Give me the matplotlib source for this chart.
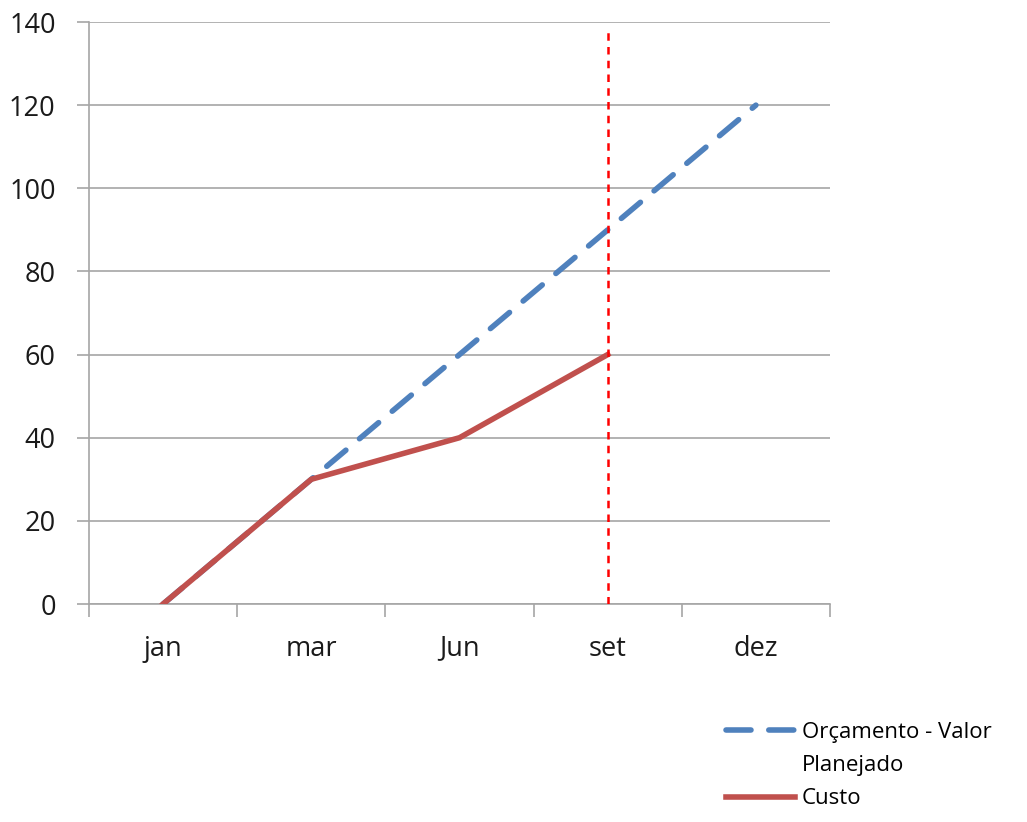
import numpy as np
import matplotlib.pyplot as plt
from matplotlib.lines import Line2D
from matplotlib.ticker import FixedLocator

# data
months = ['jan', 'mar', 'Jun', 'set', 'dez']
planned = [0, 30, 60, 90, 120]
cost = [0, 30, 40, 60]
cutoff_idx = 3
cutoff_top = 138
y_ticks = [0, 20, 40, 60, 80, 100, 120, 140]

plt.rcParams['font.family'] = ['Open Sans', 'DejaVu Sans']

fig = plt.figure(figsize=(10.27, 8.22), dpi=100)
ax = fig.add_axes([89 / 1027, 1 - 604 / 822, (830 - 89) / 1027, (604 - 22) / 822])

x = np.arange(len(months))
grid_c = '#a6a6a6'

blue_line, = ax.plot(x, planned, color='#4f81bd', lw=4, dashes=(4.5, 3.2),
                     dash_capstyle='round', zorder=3)
red_line, = ax.plot(x[:len(cost)], cost, color='#c0504d', lw=4, zorder=4)
ax.vlines(x[cutoff_idx], 0, cutoff_top, colors='red', lw=1.8,
          linestyles=(0, (3, 2.5)), zorder=5)

ax.set_xlim(-0.5, len(months) - 0.5)
ax.set_ylim(0, 140)
ax.set_xticks(x)
ax.set_xticklabels(months)
ax.xaxis.set_minor_locator(FixedLocator(np.arange(-0.5, len(months), 1)))
ax.set_yticks(y_ticks)

ax.tick_params(axis='x', which='major', length=0, pad=22, labelsize=19.5, labelcolor='#1a1a1a')
ax.tick_params(axis='x', which='minor', length=9, width=1.2, color=grid_c)
ax.tick_params(axis='y', length=9, width=1.2, color=grid_c, pad=15, labelsize=19.5, labelcolor='#1a1a1a')

ax.grid(axis='y', color=grid_c, lw=1.2)
ax.set_axisbelow(True)
for s in ['top', 'right']:
    ax.spines[s].set_visible(False)
for s in ['left', 'bottom']:
    ax.spines[s].set_color(grid_c)
    ax.spines[s].set_linewidth(1.2)

# legend: second line of the blue label sits under the first, like Excel
blank = Line2D([], [], color='none')
fig.legend([blue_line, blank, red_line],
           ['Orçamento - Valor', 'Planejado', 'Custo'],
           loc='upper left', bbox_to_anchor=(706 / 1027, 1 - 702 / 822),
           frameon=False, fontsize=16, handlelength=3.1, handletextpad=0.3,
           labelspacing=0.55)

fig.savefig('out.png', dpi=100)
